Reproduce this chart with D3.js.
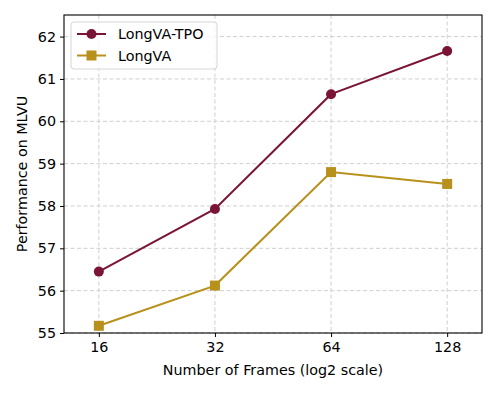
<!DOCTYPE html>
<html>
<head>
<meta charset="utf-8">
<script src="https://cdn.jsdelivr.net/npm/d3@7"></script>
<style>
  body { margin: 0; background: #fff; }
  text { font-family: "DejaVu Sans", sans-serif; }
</style>
</head>
<body>
<div class="chart"></div>
<script>
const frames = [16, 32, 64, 128];
const tpoValues = [56.45, 57.93, 60.64, 61.66];
const longvaValues = [55.17, 56.12, 58.80, 58.52];
const yTicks = [55, 56, 57, 58, 59, 60, 61, 62];

const width = 498, height = 394;
const margin = {top: 15, right: 16, bottom: 61, left: 64};
const fontSize = '14.3px';

const svg = d3.select('.chart').append('svg')
    .attr('width', width)
    .attr('height', height);

const x = d3.scaleLog().base(2)
    .domain([Math.pow(2, 3.7), Math.pow(2, 7.3)])
    .range([margin.left, width - margin.right]);

const y = d3.scaleLinear()
    .domain([55, 62.51])
    .range([height - margin.bottom, margin.top]);

// grid
svg.append('g').selectAll('line')
    .data(frames)
    .enter().append('line')
    .attr('x1', d => x(d)).attr('x2', d => x(d))
    .attr('y1', margin.top).attr('y2', height - margin.bottom)
    .style('stroke', '#cfcfcf').style('stroke-width', 1)
    .style('stroke-dasharray', '4,2.5');

svg.append('g').selectAll('line')
    .data(yTicks)
    .enter().append('line')
    .attr('x1', margin.left).attr('x2', width - margin.right)
    .attr('y1', d => y(d)).attr('y2', d => y(d))
    .style('stroke', '#cfcfcf').style('stroke-width', 1)
    .style('stroke-dasharray', '4,2.5');

// axes
const xAxis = svg.append('g')
    .attr('transform', `translate(0,${height - margin.bottom})`)
    .call(d3.axisBottom(x).tickValues(frames).tickFormat(d3.format('d')).tickSizeOuter(0).tickSize(4).tickPadding(5));

const yAxis = svg.append('g')
    .attr('transform', `translate(${margin.left},0)`)
    .call(d3.axisLeft(y).tickValues(yTicks).tickSizeOuter(0).tickSize(4).tickPadding(4));

[xAxis, yAxis].forEach(a => {
    a.select('.domain').remove();
    a.selectAll('text').style('font-size', fontSize).style('fill', '#000');
    a.selectAll('line').style('stroke', '#000').style('stroke-width', 1);
});

svg.append('rect')
    .attr('x', margin.left).attr('y', margin.top)
    .attr('width', width - margin.left - margin.right)
    .attr('height', height - margin.top - margin.bottom)
    .style('fill', 'none').style('stroke', '#000').style('stroke-width', 1.1);

// labels
svg.append('text')
    .attr('x', (margin.left + width - margin.right) / 2)
    .attr('y', 375)
    .attr('text-anchor', 'middle')
    .style('font-size', fontSize)
    .text('Number of Frames (log2 scale)');

svg.append('text')
    .attr('transform', `translate(27,${(margin.top + height - margin.bottom) / 2}) rotate(-90)`)
    .attr('text-anchor', 'middle')
    .style('font-size', fontSize)
    .text('Performance on MLVU');

const series = [
    {name: 'LongVA-TPO', values: tpoValues, color: '#7b1535', marker: 'circle'},
    {name: 'LongVA', values: longvaValues, color: '#b8901c', marker: 'square'}
];

const line = d3.line()
    .x(d => x(d.f))
    .y(d => y(d.v));

function drawMarker(g, type, color) {
    if (type === 'circle') {
        g.append('circle').attr('r', 5).style('fill', color);
    } else {
        g.append('rect').attr('x', -5).attr('y', -5).attr('width', 10).attr('height', 10).style('fill', color);
    }
}

series.forEach(s => {
    const pts = frames.map((f, i) => ({f: f, v: s.values[i]}));
    svg.append('path')
        .datum(pts)
        .attr('d', line)
        .style('fill', 'none')
        .style('stroke', s.color)
        .style('stroke-width', 2);
    pts.forEach(p => {
        const g = svg.append('g').attr('transform', `translate(${x(p.f)},${y(p.v)})`);
        drawMarker(g, s.marker, s.color);
    });
});

// legend
const legend = svg.append('g');
legend.append('rect')
    .attr('x', 71).attr('y', 22).attr('width', 146).attr('height', 47)
    .attr('rx', 3)
    .style('fill', '#fff').style('fill-opacity', 0.8)
    .style('stroke', '#d6d6d6').style('stroke-width', 1);

series.forEach((s, i) => {
    const ly = 34 + i * 21.5;
    legend.append('line')
        .attr('x1', 77).attr('x2', 106)
        .attr('y1', ly).attr('y2', ly)
        .style('stroke', s.color).style('stroke-width', 2);
    const g = legend.append('g').attr('transform', `translate(91.5,${ly})`);
    drawMarker(g, s.marker, s.color);
    legend.append('text')
        .attr('x', 118).attr('y', ly)
        .attr('dy', '0.35em')
        .style('font-size', fontSize)
        .text(s.name);
});
</script>
</body>
</html>
